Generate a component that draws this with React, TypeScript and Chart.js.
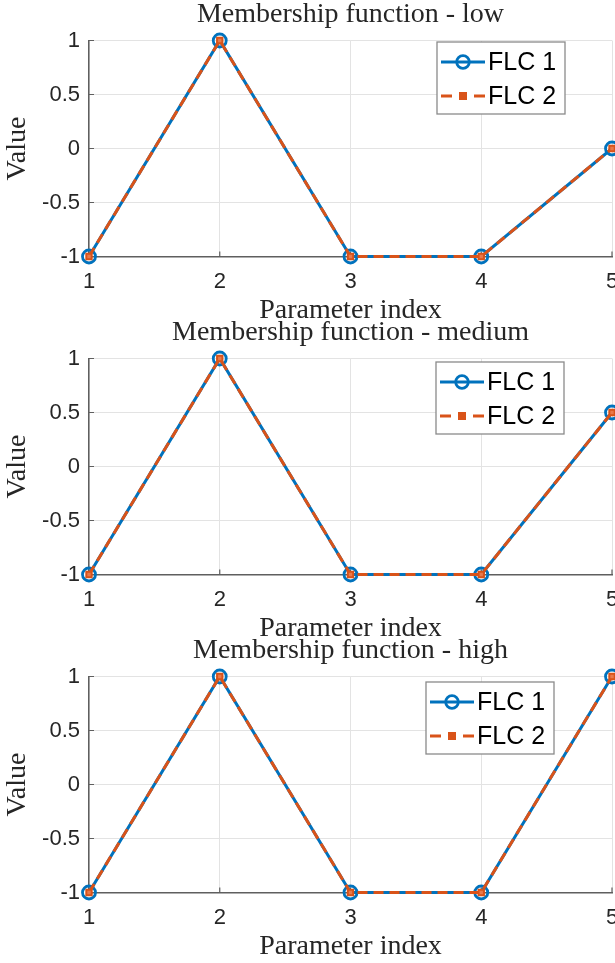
import React, { useEffect, useRef } from "react";
import { Chart, registerables } from "chart.js";

Chart.register(...registerables);

// Parameter indices on the x axis
const paramIndex = [1, 2, 3, 4, 5];

// Membership function values for both controllers
const lowFLC1 = [-1, 1, -1, -1, 0];
const lowFLC2 = [-1, 1, -1, -1, 0];
const mediumFLC1 = [-1, 1, -1, -1, 0.5];
const mediumFLC2 = [-1, 1, -1, -1, 0.5];
const highFLC1 = [-1, 1, -1, -1, 1];
const highFLC2 = [-1, 1, -1, -1, 1];

// Value axis tick positions
const yTicks = [-1, -0.5, 0, 0.5, 1];

const panelTitles = [
  "Membership function - low",
  "Membership function - medium",
  "Membership function - high",
];
const seriesNames = ["FLC 1", "FLC 2"];
const xAxisTitle = "Parameter index";
const yAxisTitle = "Value";

const BLUE = "#0072BD";
const ORANGE = "#D95319";
const AXIS = "#5f5f5f";
const GRID = "#e3e3e3";
const TEXT = "#262626";
const SERIF = "'Liberation Serif', 'Times New Roman', serif";
const SANS = "'Liberation Sans', Arial, sans-serif";

const CANVAS_W = 640;
const PLOT_LEFT = 89;
const PLOT_RIGHT = 612;
const PLOT_TOP = 40.5;
const PLOT_BOTTOM = 256.5;

type Panel = {
  title: string;
  flc1: number[];
  flc2: number[];
  top: number;
  height: number;
  legendX: number;
  legendY: number;
};

const panels: Panel[] = [
  { title: panelTitles[0], flc1: lowFLC1, flc2: lowFLC2, top: 0, height: 330, legendX: 437, legendY: 42 },
  { title: panelTitles[1], flc1: mediumFLC1, flc2: mediumFLC2, top: 318, height: 330, legendX: 436, legendY: 44 },
  { title: panelTitles[2], flc1: highFLC1, flc2: highFLC2, top: 636, height: 327, legendX: 426, legendY: 46 },
];

const toPoints = (ys: number[]) => paramIndex.map((x, i) => ({ x, y: ys[i] }));

// Draws MATLAB-like inward ticks, the title, axis titles and the boxed legend
const decorations = {
  id: "decorations",
  beforeDatasetsDraw(chart: any) {
    const { ctx, chartArea, scales } = chart;
    ctx.save();
    ctx.strokeStyle = AXIS;
    ctx.lineWidth = 1.2;
    ctx.beginPath();
    scales.x.ticks.forEach((t: any) => {
      const px = scales.x.getPixelForValue(t.value);
      ctx.moveTo(px, chartArea.bottom);
      ctx.lineTo(px, chartArea.bottom - 5);
    });
    scales.y.ticks.forEach((t: any) => {
      const py = scales.y.getPixelForValue(t.value);
      ctx.moveTo(chartArea.left, py);
      ctx.lineTo(chartArea.left + 5, py);
    });
    ctx.stroke();
    ctx.restore();
  },
  afterDraw(chart: any, _args: any, opts: any) {
    const { ctx, chartArea } = chart;
    const cx = (chartArea.left + chartArea.right) / 2;
    const cy = (chartArea.top + chartArea.bottom) / 2;
    ctx.save();
    ctx.fillStyle = TEXT;
    ctx.font = `28px ${SERIF}`;
    ctx.textAlign = "center";
    ctx.textBaseline = "alphabetic";
    ctx.fillText(opts.title, cx, 22);
    ctx.fillText(xAxisTitle, cx, 318);
    ctx.save();
    ctx.translate(18, cy);
    ctx.rotate(-Math.PI / 2);
    ctx.textBaseline = "middle";
    ctx.fillText(yAxisTitle, 0, 0);
    ctx.restore();

    // legend
    const lx = opts.legendX;
    const ly = opts.legendY;
    const w = 128;
    const h = 72;
    ctx.fillStyle = "#ffffff";
    ctx.fillRect(lx, ly, w, h);
    ctx.strokeStyle = "#8a8a8a";
    ctx.lineWidth = 1.3;
    ctx.strokeRect(lx, ly, w, h);

    const r1 = ly + 20;
    const r2 = ly + 54;
    // FLC 1 sample
    ctx.strokeStyle = BLUE;
    ctx.lineWidth = 3;
    ctx.beginPath();
    ctx.moveTo(lx + 4, r1);
    ctx.lineTo(lx + 48, r1);
    ctx.stroke();
    ctx.lineWidth = 2.8;
    ctx.beginPath();
    ctx.arc(lx + 26, r1, 6.3, 0, Math.PI * 2);
    ctx.stroke();
    // FLC 2 sample
    ctx.strokeStyle = ORANGE;
    ctx.lineWidth = 3;
    ctx.beginPath();
    ctx.moveTo(lx + 4, r2);
    ctx.lineTo(lx + 15, r2);
    ctx.moveTo(lx + 37, r2);
    ctx.lineTo(lx + 48, r2);
    ctx.stroke();
    ctx.fillStyle = ORANGE;
    ctx.fillRect(lx + 22, r2 - 4, 8, 8);

    ctx.fillStyle = "#000";
    ctx.font = `25px ${SANS}`;
    ctx.textAlign = "left";
    ctx.textBaseline = "middle";
    ctx.fillText(seriesNames[0], lx + 51, r1 + 1);
    ctx.fillText(seriesNames[1], lx + 51, r2 + 1);
    ctx.restore();
  },
};

function PanelChart({ panel }: { panel: Panel }) {
  const ref = useRef<HTMLCanvasElement | null>(null);

  useEffect(() => {
    if (!ref.current) return;
    const chart = new Chart(ref.current, {
      type: "line",
      data: {
        datasets: [
          {
            label: seriesNames[0],
            data: toPoints(panel.flc1),
            borderColor: BLUE,
            borderWidth: 3,
            pointStyle: "circle",
            pointRadius: 6.5,
            pointBorderWidth: 2.8,
            pointBorderColor: BLUE,
            pointBackgroundColor: "rgba(0,0,0,0)",
            tension: 0,
            clip: false as any,
            order: 1,
          },
          {
            label: seriesNames[1],
            data: toPoints(panel.flc2),
            borderColor: ORANGE,
            borderWidth: 3,
            borderDash: [10, 6],
            pointStyle: "rect",
            pointRadius: 3.8,
            pointBorderWidth: 2,
            pointBorderColor: ORANGE,
            pointBackgroundColor: "#e8794b",
            tension: 0,
            clip: false as any,
            order: 0,
          },
        ],
      },
      options: {
        responsive: false,
        animation: false,
        devicePixelRatio: 1,
        layout: {
          padding: { left: 0, top: PLOT_TOP, right: CANVAS_W - PLOT_RIGHT, bottom: 0 },
        },
        scales: {
          x: {
            type: "linear",
            min: 1,
            max: 5,
            afterFit: (s: any) => {
              s.height = panel.height - PLOT_BOTTOM;
            },
            ticks: {
              stepSize: 1,
              padding: 12,
              color: TEXT,
              font: { family: SANS, size: 22 },
              callback: (v: any) => String(v),
            },
            grid: { color: GRID, lineWidth: 1, drawTicks: false },
            border: { color: AXIS, width: 1.5 },
          },
          y: {
            type: "linear",
            min: -1,
            max: 1,
            afterFit: (s: any) => {
              s.width = PLOT_LEFT;
            },
            afterBuildTicks: (s: any) => {
              s.ticks = yTicks.map((v) => ({ value: v }));
            },
            ticks: {
              padding: 9,
              color: TEXT,
              font: { family: SANS, size: 22 },
              callback: (v: any) => String(v),
            },
            grid: { color: GRID, lineWidth: 1, drawTicks: false },
            border: { color: AXIS, width: 1.5 },
          },
        },
        plugins: {
          legend: { display: false },
          tooltip: { enabled: false },
          decorations: {
            title: panel.title,
            legendX: panel.legendX,
            legendY: panel.legendY,
          },
        } as any,
      },
      plugins: [decorations],
    });
    return () => chart.destroy();
  }, [panel]);

  return (
    <canvas
      ref={ref}
      width={CANVAS_W}
      height={panel.height}
      style={{ position: "absolute", left: 0, top: panel.top, width: CANVAS_W, height: panel.height }}
    />
  );
}

export default function App() {
  return (
    <div
      style={{
        position: "absolute",
        left: 0,
        top: 0,
        width: 615,
        height: 963,
        overflow: "hidden",
        background: "#ffffff",
      }}
    >
      {panels.map((p, i) => (
        <PanelChart key={i} panel={p} />
      ))}
    </div>
  );
}
